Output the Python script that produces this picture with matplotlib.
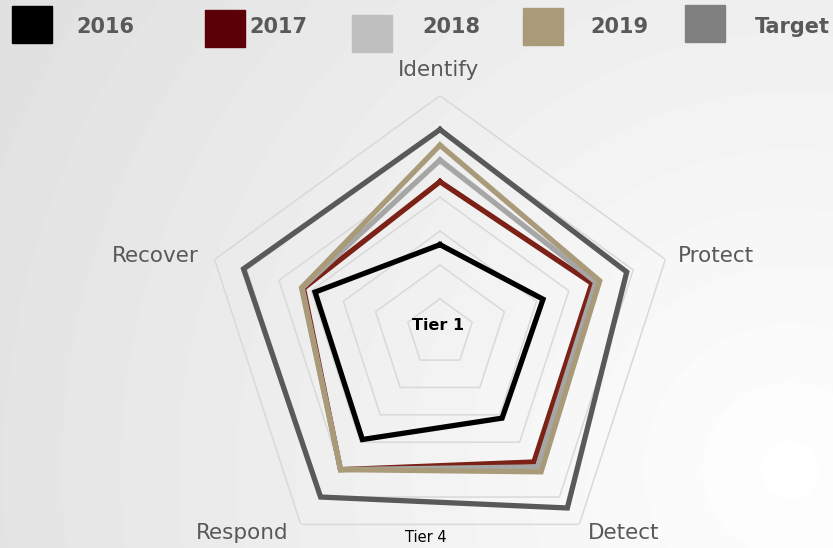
import numpy as np
import matplotlib
matplotlib.use("Agg")
from matplotlib import pyplot as plt
from matplotlib.patches import Rectangle

categories = ["Identify", "Protect", "Detect", "Respond", "Recover"]
series_names = ["2016", "2017", "2018", "2019", "Target"]
values_2016 = [1.3, 1.6, 1.56, 1.95, 1.94]
values_2017 = [2.23, 2.36, 2.36, 2.5, 2.12]
values_2018 = [2.55, 2.42, 2.45, 2.5, 2.14]
values_2019 = [2.77, 2.48, 2.54, 2.5, 2.15]
values_target = [3.0, 2.9, 3.2, 3.0, 3.05]
ring_levels = [0.5, 1.0, 1.5, 2.0, 2.5, 3.0, 3.5]

line_colors = ["#000000", "#7B2116", "#A6A6A6", "#A99B7A", "#595959"]
legend_colors = ["#000000", "#5C0008", "#BFBFBF", "#A99B7A", "#808080"]


def main():
    fig = plt.figure(figsize=(8.33, 5.48), dpi=100)

    # soft radial background
    bg = fig.add_axes([0, 0, 1, 1], zorder=-10)
    yy, xx = np.mgrid[0:548, 0:833]
    dist = np.hypot(xx - 790, yy - 470)
    shade = np.clip(1.0 - dist / 820 * 0.11, 0.88, 1.0)
    bg.imshow(shade, cmap="gray", vmin=0, vmax=1, aspect="auto", extent=[0, 1, 0, 1])
    bg.axis("off")

    ax = fig.add_axes([0.2437, -0.0396, 0.569, 0.865], projection="polar")
    ax.patch.set_alpha(0)
    ax.set_theta_offset(np.pi / 2)
    ax.set_theta_direction(-1)
    ax.set_ylim(0, 3.5)
    ax.grid(False)
    ax.spines["polar"].set_visible(False)
    ax.set_xticks([])
    ax.set_yticks([])

    angles = np.linspace(0, 2 * np.pi, len(categories), endpoint=False)
    closed = np.concatenate([angles, angles[:1]])

    for lvl in ring_levels:
        ax.plot(closed, [lvl] * len(closed), color="#D9D9D9", lw=1.1, zorder=1)

    all_values = [values_2016, values_2017, values_2018, values_2019, values_target]
    for vals, col in zip(all_values, line_colors):
        v = list(vals) + [vals[0]]
        ax.plot(closed, v, color=col, lw=3.8, solid_joinstyle="miter", zorder=3)

    label_pos = [(438, 70), (716, 256), (624, 533), (242, 533), (155, 256)]
    for name, (px, py) in zip(categories, label_pos):
        fig.text(px / 833, 1 - py / 548, name, fontsize=15.5, color="#595959",
                 ha="center", va="center")

    fig.text(438 / 833, 1 - 325 / 548, "Tier 1", fontsize=11.5, fontweight="bold",
             color="#000000", ha="center", va="center")
    fig.text(426 / 833, 1 - 537 / 548, "Tier 4", fontsize=10.5,
             color="#000000", ha="center", va="center")

    # legend row
    box_x = [12, 205, 352, 523, 685]
    box_y = [6, 10, 15, 8, 5]
    text_x = [105, 278, 451, 619, 792]
    for name, col, bx, by, tx in zip(series_names, legend_colors, box_x, box_y, text_x):
        fig.patches.append(Rectangle((bx / 833, 1 - (by + 37) / 548), 40 / 833, 37 / 548,
                                     transform=fig.transFigure, color=col, zorder=5))
        fig.text(tx / 833, 1 - 27 / 548, name, fontsize=15, fontweight="bold",
                 color="#595959", ha="center", va="center")

    fig.savefig("out.png", dpi=100)
    plt.close(fig)


main()
